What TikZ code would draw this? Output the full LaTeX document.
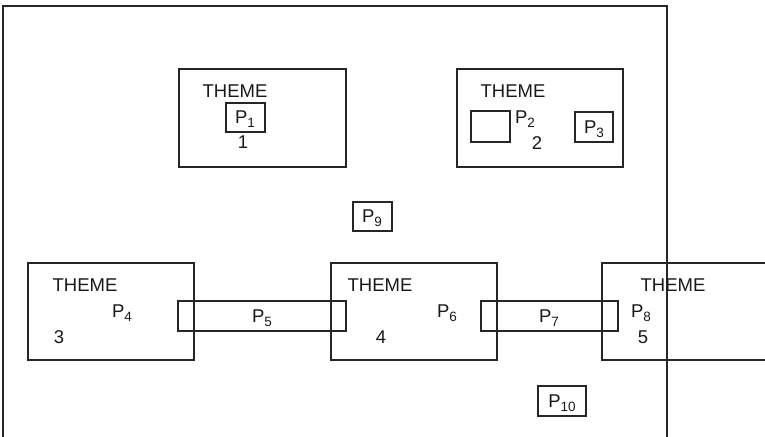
\documentclass[tikz,border=0pt]{standalone}
\usepackage{fontspec}
\setmainfont{Liberation Sans}
\newcommand\mysub[1]{\raisebox{-4.5pt}{\fontsize{13.5}{14}\selectfont #1}}
\begin{document}
\begin{tikzpicture}[x=1pt,y=-1pt,
  box/.style={draw=black!85,line width=1.4pt,inner sep=0pt,minimum width=#1},
  lbl/.style={inner sep=0pt,font=\fontsize{18.5}{20}\selectfont,text=black!90}]
\useasboundingbox (0,0) rectangle (765,436);
\clip (0,0) rectangle (765,436);
% outer frame (open at bottom)
\coordinate (ob1) at (3,440);
\coordinate (ot1) at (3,6);
\coordinate (ot2) at (667,6);
\coordinate (ob2) at (667,440);
\draw[draw=black!85,line width=1.4pt] (ob1) -- (ot1) -- (ot2) -- (ob2);
% theme boxes
\node[box=167pt,minimum height=98pt] (t1) at (262.5,118) {};
\node[box=166pt,minimum height=98pt] (t2) at (540,118) {};
\node[box=166pt,minimum height=97pt] (t3) at (111,311.5) {};
\node[box=166pt,minimum height=97pt] (t4) at (414,311.5) {};
\node[box=200pt,minimum height=97pt] (t5) at (702,311.5) {};
% small boxes
\node[box=39pt,minimum height=29pt] (b1) at (245.5,117.5) {};
\node[box=39pt,minimum height=31pt] (be) at (490.5,126.5) {};
\node[box=38pt,minimum height=30pt] (b3) at (594,127) {};
\node[box=39pt,minimum height=29pt] (b9) at (372.5,216.5) {};
\node[box=168pt,minimum height=30pt] (b5) at (262,316) {};
\node[box=137pt,minimum height=30pt] (b7) at (549.5,316) {};
\node[box=48pt,minimum height=30pt] (b10) at (562,401) {};
% labels
\node[lbl] (th1) at (235,91) {THEME};
\node[lbl] (th2) at (513,91) {THEME};
\node[lbl] (th3) at (85,285) {THEME};
\node[lbl] (th4) at (380,285) {THEME};
\node[lbl] (th5) at (673,285) {THEME};
\node[lbl] (p1) at (245,119) {P\mysub{1}};
\node[lbl] (n1) at (243,142) {1};
\node[lbl] (p2) at (525,119) {P\mysub{2}};
\node[lbl] (n2) at (537,143) {2};
\node[lbl] (p3) at (594,129) {P\mysub{3}};
\node[lbl] (p4) at (122,313) {P\mysub{4}};
\node[lbl] (n3) at (59,337) {3};
\node[lbl] (p5) at (262,318) {P\mysub{5}};
\node[lbl] (p6) at (447,313) {P\mysub{6}};
\node[lbl] (n4) at (381,337) {4};
\node[lbl] (p7) at (549,318) {P\mysub{7}};
\node[lbl] (p8) at (641,313) {P\mysub{8}};
\node[lbl] (n5) at (643,337) {5};
\node[lbl] (p9) at (372,218) {P\mysub{9}};
\node[lbl] (p10) at (562,403) {P\mysub{10}};
\end{tikzpicture}
\end{document}
